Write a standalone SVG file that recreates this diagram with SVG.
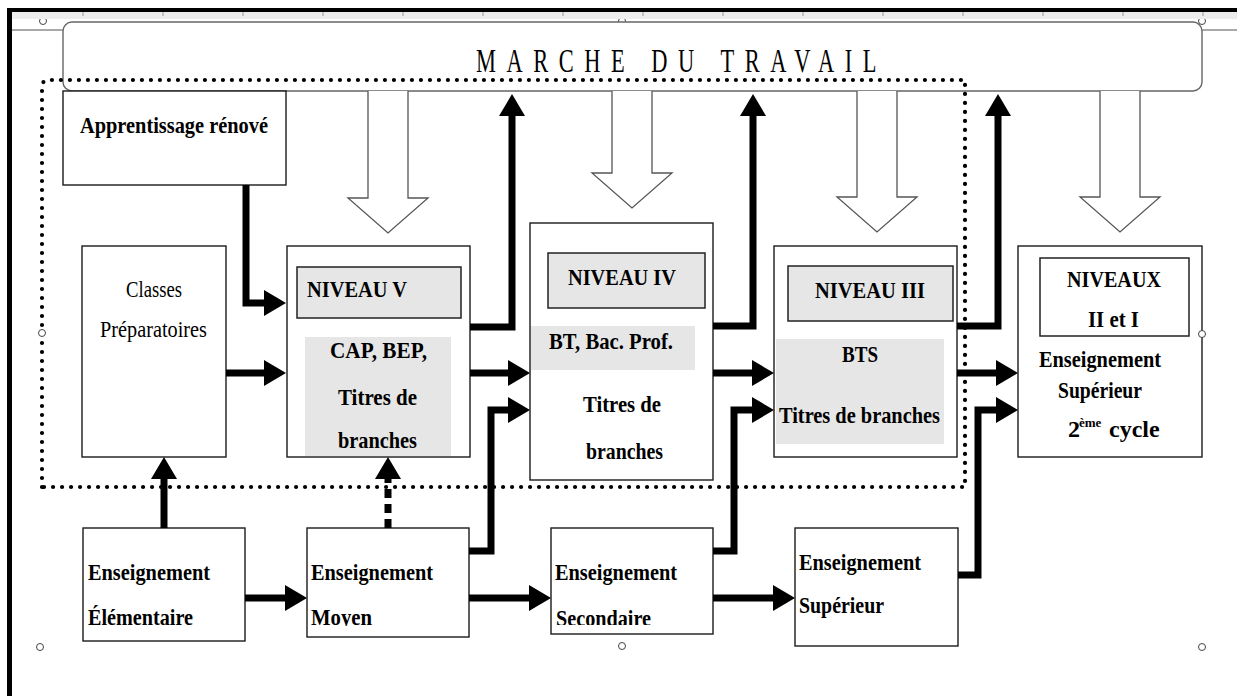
<svg xmlns="http://www.w3.org/2000/svg" width="1237" height="696" viewBox="0 0 1237 696">
<style>
.box{fill:#fff;stroke:#1a1a1a;stroke-width:1.4}
.inner{fill:#e6e6e6;stroke:#222;stroke-width:1.5}
.innerw{fill:#fff;stroke:#222;stroke-width:1.5}
.band{fill:#e6e6e6;stroke:none}
.t{font-family:"Liberation Serif","Times New Roman",serif;font-weight:bold;font-size:24px;fill:#000}
.r{font-weight:normal;font-size:23px}
.conn{fill:none;stroke:#000;stroke-width:7;stroke-linejoin:miter}
.dash{stroke-dasharray:9 6}
.hollow{fill:#fff;stroke:#555;stroke-width:1.3}
.handle{fill:#fff;stroke:#444;stroke-width:1}
.tick{stroke:#999;stroke-width:1}
</style>
<defs>
<marker id="ah" markerUnits="userSpaceOnUse" markerWidth="22" markerHeight="26" viewBox="0 0 22 26" refX="1" refY="13" orient="auto">
<path d="M0,0 L22,13 L0,26 z" fill="#000"/>
</marker>
<clipPath id="clipMoy"><rect x="307" y="555" width="162" height="71"/></clipPath>
<clipPath id="clipSec"><rect x="551" y="555" width="162" height="70"/></clipPath>
</defs>
<rect width="1237" height="696" fill="#fff"/>
<g id="page">
<circle class="handle" cx="43" cy="21" r="3.5"/>
<circle class="handle" cx="622" cy="21" r="3.5"/>
<circle class="handle" cx="1202" cy="21" r="3.5"/>
<rect x="12" y="12" width="1225" height="7" fill="#ededed"/>
<g class="tick">
<line x1="83" y1="12" x2="83" y2="16"/><line x1="163" y1="12" x2="163" y2="16"/><line x1="243" y1="12" x2="243" y2="16"/><line x1="323" y1="12" x2="323" y2="16"/><line x1="403" y1="12" x2="403" y2="16"/><line x1="483" y1="12" x2="483" y2="16"/><line x1="563" y1="12" x2="563" y2="16"/><line x1="643" y1="12" x2="643" y2="16"/><line x1="723" y1="12" x2="723" y2="16"/><line x1="803" y1="12" x2="803" y2="16"/><line x1="883" y1="12" x2="883" y2="16"/><line x1="963" y1="12" x2="963" y2="16"/><line x1="1043" y1="12" x2="1043" y2="16"/><line x1="1123" y1="12" x2="1123" y2="16"/><line x1="1203" y1="12" x2="1203" y2="16"/>
</g>
<rect x="7" y="8" width="1230" height="4" fill="#000"/>
<rect x="7" y="8" width="5" height="688" fill="#000"/>
<line x1="12" y1="30" x2="63" y2="30" stroke="#555" stroke-width="1.2"/>
<line x1="1202" y1="30" x2="1237" y2="30" stroke="#555" stroke-width="1.2"/>
</g>
<g id="marche">
<rect x="63" y="22" width="1139" height="69" rx="9" fill="#fff" stroke="#666" stroke-width="1.4"/>
<text transform="translate(476 72) scale(0.68 1)" x="0" y="0" font-family="'Liberation Serif','Times New Roman',serif" font-size="33" letter-spacing="15.5" fill="#000">MARCHE DU TRAVAIL</text>
</g>
<path id="perimetre" d="M42,487 V87 Q42,80 49,80 H965 V487 Z" fill="none" stroke="#000" stroke-width="4.2" stroke-linecap="round" stroke-dasharray="0 9"/>
<g id="hollow-arrows">
<path class="hollow" d="M368,91 V198 H348 L388,233 L428,198 H408 V91"/>
<path class="hollow" d="M612,91 V173 H592 L632,208 L672,173 H652 V91"/>
<path class="hollow" d="M857,91 V197 H837 L877,232 L917,197 H897 V91"/>
<path class="hollow" d="M1100,91 V197 H1080 L1120,232 L1160,197 H1140 V91"/>
</g>
<g id="apprentissage">
<rect class="box" x="63" y="91" width="223" height="94"/>
<text class="t" x="80" y="133" textLength="188" lengthAdjust="spacingAndGlyphs">Apprentissage rénové</text>
</g>
<g id="classes">
<rect class="box" x="82" y="246" width="144" height="211"/>
<text class="t r" x="126" y="297" textLength="56" lengthAdjust="spacingAndGlyphs">Classes</text>
<text class="t r" x="100" y="337" textLength="107" lengthAdjust="spacingAndGlyphs">Préparatoires</text>
</g>
<g id="niveau5">
<rect class="box" x="287" y="246" width="183" height="211"/>
<rect class="inner" x="297" y="267" width="164" height="51"/>
<text class="t" x="307" y="297" textLength="100" lengthAdjust="spacingAndGlyphs">NIVEAU V</text>
<rect class="band" x="305" y="337" width="146" height="119"/>
<text class="t" x="330" y="358" textLength="97" lengthAdjust="spacingAndGlyphs">CAP, BEP,</text>
<text class="t" x="338" y="405" textLength="79" lengthAdjust="spacingAndGlyphs">Titres de</text>
<text class="t" x="338" y="448" textLength="79" lengthAdjust="spacingAndGlyphs">branches</text>
</g>
<g id="niveau4">
<rect class="box" x="530" y="223" width="183" height="257"/>
<rect class="inner" x="548" y="253" width="157" height="55"/>
<text class="t" x="568" y="285" textLength="108" lengthAdjust="spacingAndGlyphs">NIVEAU IV</text>
<rect class="band" x="531" y="326" width="164" height="44"/>
<text class="t" x="549" y="349" textLength="124" lengthAdjust="spacingAndGlyphs">BT, Bac. Prof.</text>
<text class="t" x="583" y="412" textLength="78" lengthAdjust="spacingAndGlyphs">Titres de</text>
<text class="t" x="586" y="459" textLength="77" lengthAdjust="spacingAndGlyphs">branches</text>
</g>
<g id="niveau3">
<rect class="box" x="774" y="246" width="183" height="211"/>
<rect class="inner" x="788" y="266" width="165" height="55"/>
<text class="t" x="815" y="298" textLength="110" lengthAdjust="spacingAndGlyphs">NIVEAU III</text>
<rect class="band" x="776" y="339" width="168" height="105"/>
<text class="t" x="842" y="362" textLength="36" lengthAdjust="spacingAndGlyphs">BTS</text>
<text class="t" x="779" y="423" textLength="161" lengthAdjust="spacingAndGlyphs">Titres de branches</text>
</g>
<g id="niveaux2-1">
<rect class="box" x="1018" y="246" width="184" height="211"/>
<rect class="innerw" x="1040" y="258" width="149" height="78"/>
<text class="t" x="1067" y="287" textLength="94" lengthAdjust="spacingAndGlyphs">NIVEAUX</text>
<text class="t" x="1088" y="327" textLength="51" lengthAdjust="spacingAndGlyphs">II et I</text>
<text class="t" x="1039" y="367" textLength="122" lengthAdjust="spacingAndGlyphs">Enseignement</text>
<text class="t" x="1058" y="398" textLength="84" lengthAdjust="spacingAndGlyphs">Supérieur</text>
<text class="t" y="437"><tspan x="1068">2</tspan><tspan x="1079" y="427" font-size="13">ème</tspan><tspan x="1103" y="437"> cycle</tspan></text>
</g>
<g id="elementaire">
<rect class="box" x="83" y="528" width="162" height="113"/>
<text class="t" x="88" y="580" textLength="122" lengthAdjust="spacingAndGlyphs">Enseignement</text>
<text class="t" x="88" y="625" textLength="105" lengthAdjust="spacingAndGlyphs">Élémentaire</text>
</g>
<g id="moyen">
<rect class="box" x="307" y="528" width="162" height="109"/>
<text class="t" x="311" y="580" textLength="122" lengthAdjust="spacingAndGlyphs">Enseignement</text>
<text class="t" x="311" y="625" textLength="61" lengthAdjust="spacingAndGlyphs" clip-path="url(#clipMoy)">Moyen</text>
</g>
<g id="secondaire">
<rect class="box" x="551" y="528" width="162" height="106"/>
<text class="t" x="555" y="580" textLength="122" lengthAdjust="spacingAndGlyphs">Enseignement</text>
<text class="t" x="556" y="626" textLength="95" lengthAdjust="spacingAndGlyphs" clip-path="url(#clipSec)">Secondaire</text>
</g>
<g id="superieur">
<rect class="box" x="795" y="528" width="163" height="118"/>
<text class="t" x="799" y="570" textLength="122" lengthAdjust="spacingAndGlyphs">Enseignement</text>
<text class="t" x="799" y="613" textLength="85" lengthAdjust="spacingAndGlyphs">Supérieur</text>
</g>
<g id="connectors">
<path class="conn" d="M246,185 V303 H265" marker-end="url(#ah)"/>
<path class="conn" d="M226,373 H265" marker-end="url(#ah)"/>
<path class="conn" d="M470,327 H512 V115" marker-end="url(#ah)"/>
<path class="conn" d="M470,373 H509" marker-end="url(#ah)"/>
<path class="conn" d="M469,551 H491 V410 H509" marker-end="url(#ah)"/>
<path class="conn" d="M713,326 H753 V115" marker-end="url(#ah)"/>
<path class="conn" d="M713,373 H753" marker-end="url(#ah)"/>
<path class="conn" d="M713,551 H734 V410 H753" marker-end="url(#ah)"/>
<path class="conn" d="M957,326 H998 V115" marker-end="url(#ah)"/>
<path class="conn" d="M957,373 H997" marker-end="url(#ah)"/>
<path class="conn" d="M958,575 H978 V410 H997" marker-end="url(#ah)"/>
<path class="conn" d="M245,598 H286" marker-end="url(#ah)"/>
<path class="conn" d="M469,598 H530" marker-end="url(#ah)"/>
<path class="conn" d="M713,598 H774" marker-end="url(#ah)"/>
<path class="conn" d="M164,528 V478" marker-end="url(#ah)"/>
<path class="conn dash" d="M388,528 V478" marker-end="url(#ah)"/>
</g>
<g id="handles">
<circle class="handle" cx="42" cy="333" r="3.5"/>
<circle class="handle" cx="1202" cy="334" r="3.5"/>
<circle class="handle" cx="40" cy="647" r="3.5"/>
<circle class="handle" cx="622" cy="646" r="3.5"/>
<circle class="handle" cx="1202" cy="647" r="3.5"/>
</g>
</svg>
